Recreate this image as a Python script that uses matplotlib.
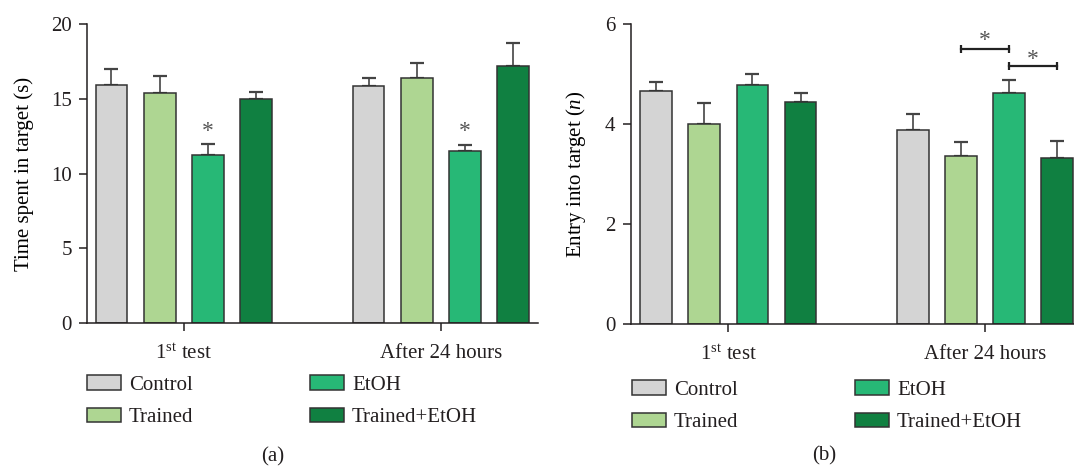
import matplotlib
matplotlib.use('Agg')
import matplotlib.pyplot as plt
import numpy as np

plt.rcParams['font.family'] = ['Liberation Serif', 'DejaVu Serif']
plt.rcParams['mathtext.fontset'] = 'custom'
plt.rcParams['mathtext.rm'] = 'Liberation Serif'
plt.rcParams['mathtext.it'] = 'Liberation Serif:italic'
plt.rcParams['font.size'] = 15

# data (mean and upper SEM), rows = conditions, cols = sessions
sessions = [r'1$^{\rm st}$ test', 'After 24 hours']
conditions = ['Control', 'Trained', 'EtOH', 'Trained+EtOH']
colors = ['#d4d4d4', '#aed692', '#27b876', '#108041']

time_mean = [[15.9, 15.83], [15.39, 16.39], [11.22, 11.51], [15.01, 17.22]]
time_err = [[1.07, 0.56], [1.16, 1.02], [0.73, 0.40], [0.45, 1.54]]

entry_mean = [[4.67, 3.89], [4.0, 3.37], [4.78, 4.63], [4.45, 3.33]]
entry_err = [[0.17, 0.31], [0.42, 0.27], [0.23, 0.25], [0.18, 0.33]]

# significance: panel a stars over EtOH bars, panel b brackets in 2nd session
star_a_cond = 2
star_a_y = 12.8
brackets_b = [(1, 2, 5.49, 5.66), (2, 3, 5.17, 5.29)]  # (from, to, line y, star y)

ink = '#231f20'
group_x = np.array([0.0, 5.33])
offsets = np.array([-1.5, -0.5, 0.5, 1.5])
bar_w = 0.66

fig = plt.figure(figsize=(10.74, 4.66), dpi=100)
ax_a = fig.add_axes([0.0813, 0.3062, 0.4199, 0.6423])
ax_b = fig.add_axes([0.5872, 0.3047, 0.4128, 0.6438])


def draw_panel(ax, means, errs, ymax, yticks, ylabel, xlim):
    for i, cond in enumerate(conditions):
        x = group_x + offsets[i]
        ax.bar(x, means[i], width=bar_w, color=colors[i],
               edgecolor='#333333', linewidth=1.1, label=cond, zorder=2)
        ax.errorbar(x, means[i], yerr=[np.zeros(2), errs[i]], fmt='none',
                    ecolor='#444444', elinewidth=1.2, capsize=4.8,
                    capthick=1.6, zorder=1)
    ax.set_ylim(0, ymax)
    ax.set_xlim(*xlim)
    ax.set_yticks(yticks)
    ax.set_xticks(group_x)
    ax.set_xticklabels(sessions)
    ax.set_ylabel(ylabel, labelpad=12)
    for s in ['top', 'right']:
        ax.spines[s].set_visible(False)
    for s in ['left', 'bottom']:
        ax.spines[s].set_color(ink)
        ax.spines[s].set_linewidth(1.1)
    ax.tick_params(axis='y', length=6, width=1.1, pad=5, colors=ink)
    ax.tick_params(axis='x', length=6, width=1.1, pad=9, colors=ink)


draw_panel(ax_a, time_mean, time_err, 20, [0, 5, 10, 15, 20],
           'Time spent in target (s)', (-2.0, 7.35))
draw_panel(ax_b, entry_mean, entry_err, 6, [0, 2, 4, 6],
           r'Entry into target ($n$)', (-2.03, 7.18))

# stars on panel a
for g in group_x:
    ax_a.text(g + offsets[star_a_cond], star_a_y, '*', ha='center', va='center',
              fontsize=17, color='#555555')

# brackets on panel b
for c1, c2, h, hs in brackets_b:
    x1 = group_x[1] + offsets[c1]
    x2 = group_x[1] + offsets[c2]
    ax_b.plot([x1, x2], [h, h], color='#222222', lw=1.6, clip_on=False)
    ax_b.plot([x1, x2], [h, h], ls='none', marker='|', ms=6, mew=1.6,
              color='#222222', clip_on=False)
    ax_b.text((x1 + x2) / 2, hs, '*', ha='center', va='center',
              fontsize=17, color='#555555')

for ax, anchor in [(ax_a, (77 / 1074, 1 - 365 / 466)),
                   (ax_b, (622 / 1074, 1 - 370 / 466))]:
    ax.legend(loc='upper left', bbox_to_anchor=anchor,
              bbox_transform=fig.transFigure, ncol=2, frameon=False,
              borderpad=0, handlelength=1.6, handleheight=0.7,
              handletextpad=0.4, columnspacing=5.6, labelspacing=0.6,
              fontsize=15, labelcolor=ink)

fig.text(273 / 1074, 1 - 457 / 466, '(a)', ha='center', va='center',
         fontsize=15, color=ink)
fig.text(824 / 1074, 1 - 456 / 466, '(b)', ha='center', va='center',
         fontsize=15, color=ink)

fig.savefig('out.png', dpi=100)
